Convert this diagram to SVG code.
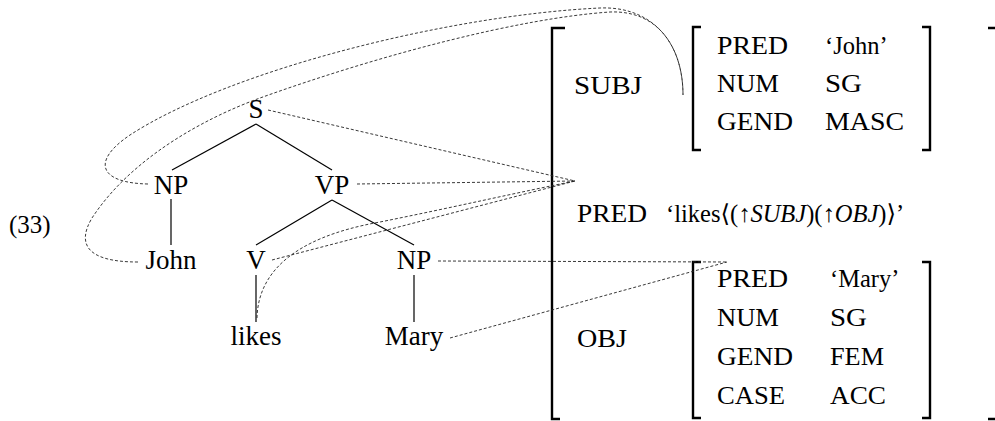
<svg xmlns="http://www.w3.org/2000/svg" width="995" height="421" viewBox="0 0 995 421" font-family="'Liberation Serif', 'DejaVu Serif', serif">
<style>
text{font-family:'Liberation Serif','DejaVu Serif',serif;fill:#000}
.t{font-size:27px;text-anchor:middle}
.a{font-size:24.5px}
.edge{stroke:#000;stroke-width:1.2;fill:none}
.dash{stroke:#222;stroke-width:0.9;fill:none;stroke-dasharray:3 2}
.br{stroke:#000;stroke-width:2.4;fill:none}
</style>
<rect width="995" height="421" fill="#fff"/>
<text id="ex" x="9" y="233" font-size="25">(33)</text>
<g id="tree-edges">
<line class="edge" x1="256" y1="124" x2="172" y2="170"/>
<line class="edge" x1="256" y1="124" x2="332" y2="170"/>
<line class="edge" x1="171" y1="199" x2="171" y2="245"/>
<line class="edge" x1="332" y1="200" x2="256" y2="245"/>
<line class="edge" x1="332" y1="200" x2="414" y2="245"/>
<line class="edge" x1="256" y1="275" x2="256" y2="322"/>
<line class="edge" x1="414" y1="275" x2="414" y2="322"/>
</g>
<g id="n-S"><text class="t" x="256" y="118">S</text></g>
<g id="n-NP1"><text class="t" x="171" y="194">NP</text></g>
<g id="n-VP"><text class="t" x="332" y="194">VP</text></g>
<g id="n-John"><text class="t" x="171" y="269">John</text></g>
<g id="n-V"><text class="t" x="256" y="269">V</text></g>
<g id="n-NP2"><text class="t" x="414" y="269">NP</text></g>
<g id="n-likes"><text class="t" x="256" y="345">likes</text></g>
<g id="n-Mary"><text class="t" x="414" y="345">Mary</text></g>
<g id="fs-outer">
<path class="br" d="M565,28 H552 V419 H560"/>
<path class="br" d="M988,28 H997 V419 H988"/>
<text class="a" x="574" y="94" textLength="68" lengthAdjust="spacingAndGlyphs">SUBJ</text>
<text class="a" x="577" y="222" textLength="70" lengthAdjust="spacingAndGlyphs">PRED</text>
<text class="a" x="666" y="222">‘likes⟨(↑<tspan font-style="italic">SUBJ</tspan>)(↑<tspan font-style="italic">OBJ</tspan>)⟩’</text>
<text class="a" x="577" y="347" textLength="50" lengthAdjust="spacingAndGlyphs">OBJ</text>
</g>
<g id="fs-subj">
<path class="br" d="M701,27 H693 V150 H701"/>
<path class="br" d="M922,27 H930 V150 H922"/>
<text class="a" x="717" y="54" textLength="71" lengthAdjust="spacingAndGlyphs">PRED</text><text class="a" x="825" y="54">‘John’</text>
<text class="a" x="717" y="92" textLength="62" lengthAdjust="spacingAndGlyphs">NUM</text><text class="a" x="825" y="92" textLength="37" lengthAdjust="spacingAndGlyphs">SG</text>
<text class="a" x="717" y="130" textLength="76" lengthAdjust="spacingAndGlyphs">GEND</text><text class="a" x="825" y="130" textLength="79" lengthAdjust="spacingAndGlyphs">MASC</text>
</g>
<g id="fs-obj">
<path class="br" d="M701,262 H693 V418 H701"/>
<path class="br" d="M922,262 H930 V418 H922"/>
<text class="a" x="717" y="287" textLength="71" lengthAdjust="spacingAndGlyphs">PRED</text><text class="a" x="830" y="287">‘Mary’</text>
<text class="a" x="717" y="326" textLength="62" lengthAdjust="spacingAndGlyphs">NUM</text><text class="a" x="830" y="326" textLength="37" lengthAdjust="spacingAndGlyphs">SG</text>
<text class="a" x="717" y="365" textLength="76" lengthAdjust="spacingAndGlyphs">GEND</text><text class="a" x="830" y="365" textLength="54" lengthAdjust="spacingAndGlyphs">FEM</text>
<text class="a" x="717" y="404" textLength="68" lengthAdjust="spacingAndGlyphs">CASE</text><text class="a" x="830" y="404" textLength="56" lengthAdjust="spacingAndGlyphs">ACC</text>
</g>
<g id="connectors">
<line class="dash" x1="268" y1="110" x2="575" y2="181"/>
<line class="dash" x1="357" y1="184" x2="575" y2="181"/>
<line class="dash" x1="272" y1="260" x2="575" y2="181"/>
<path class="dash" d="M257,318 C258,275 290,238 380,222 C450,208 520,192 575,181"/>
<path class="dash" d="M148,184 C100,183 90,162 130,135 C230,70 450,15 600,8 C650,6 683,40 683,95"/>
<path class="dash" d="M138,262 C88,262 76,245 92,218 C130,160 200,120 260,98 C380,55 520,18 610,12 C660,10 683,50 683,95"/>
<line class="dash" x1="438" y1="261" x2="727" y2="262"/>
<line class="dash" x1="450" y1="338" x2="727" y2="262"/>
</g>
</svg>
